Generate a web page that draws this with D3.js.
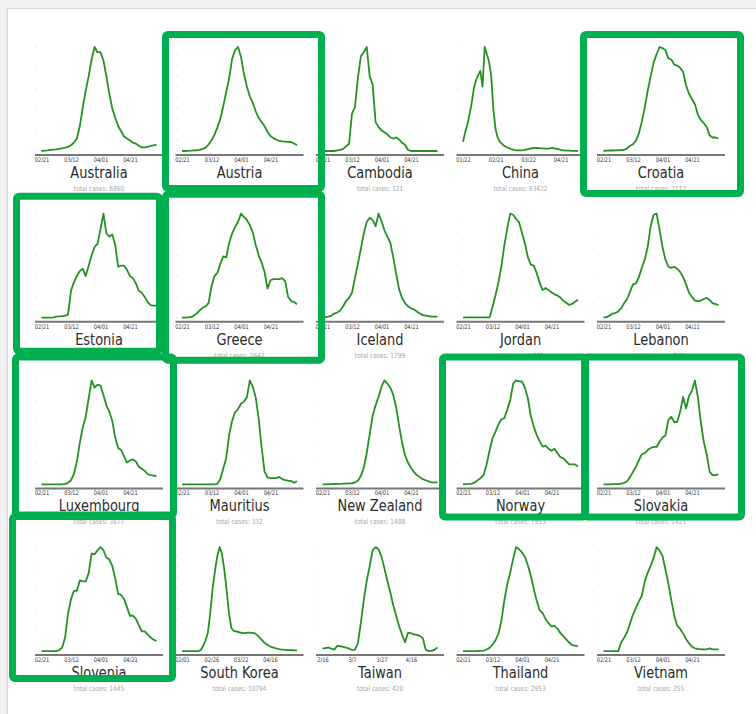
<!DOCTYPE html>
<html><head><meta charset="utf-8">
<script src="https://cdn.jsdelivr.net/npm/d3@7"></script>
<style>body{margin:0;background:#f1f1f1;} svg{display:block}</style>
</head><body><svg id="c" width="756" height="714"></svg>
<script>
// ---------- data ----------
const countries = ["Australia","Austria","Cambodia","China","Croatia","Estonia","Greece","Iceland","Jordan","Lebanon",
  "Luxembourg","Mauritius","New Zealand","Norway","Slovakia","Slovenia","South Korea","Taiwan","Thailand","Vietnam"];
const totalCases = [6860,15550,121,83422,2112,1711,2642,1799,471,740,3877,332,1488,7953,1421,1445,10794,420,2953,255];
const startDates = ["2020-02-21","2020-02-21","2020-02-21","2020-01-22","2020-02-21","2020-02-21","2020-02-21","2020-02-21","2020-02-21","2020-02-21",
  "2020-02-21","2020-02-21","2020-02-21","2020-02-21","2020-02-21","2020-02-21","2020-02-01","2020-02-16","2020-02-21","2020-02-21"];
const stepDays = 2;
const standardTicks = ["02/21","03/12","04/01","04/21"];
const chinaTicks = ["01/22","02/21","03/22","04/21"];
const koreaTicks = ["02/01","02/26","03/22","04/16"];
const taiwanTicks = ["2/16","3/7","3/27","4/16"];
const highlighted = ["Austria","Croatia","Estonia","Greece","Luxembourg","Norway","Slovakia","Slovenia"];

// daily new cases, smoothed, relative scale (sampled every 2 days)
const australia = [0,0.3,0.6,1,1.3,1.6,2,2.5,3.2,4,5.5,8,12,24,42,58,72,88,100,95,95,87,72,55,41,32,24,19,14,12,10,8,7,5,3.5,3.5,4,5,5.5,6];
const austria = [0,0,0.2,0.3,0.5,0.7,1,2,3.2,6,10,15,22,30,42,55,68,86,94,97,88,72,60,51,45,37,31,27,23,18,14,12,10.5,9.5,9,8.8,8.6,8.4,7,5.5];
const cambodia = [0,0,0,0,0,0.5,1,2,4.5,7,36,42,70,91,95,100,72,64,28,23,20,18,16,13,12,13,11,8,6,1,0,0,0,0,0,0,0,0,0,0];
const china = [9,18,25,35,46,60,68,73,77,62,100,93,86,72,40,21,13,9,7,5,4,3,2,1.5,1,0.8,0.6,0.8,1,1.5,2,2.5,2.8,3,3,2.8,2.6,2.6,2.4,2.4,2.6,3,2.6,2.2,1.8,1.2,0.8,0.6,0.5,0.4,0.3,0.3,0.2,0.1];
const croatia = [0,0.3,0.5,0.5,0.6,0.7,0.8,1,2.5,5,6.5,10,17,28,42,58,72,85,93,100,99,97,89,88,83,82,80,76,63,55,50,45,35,30,27,23,15,13,13,12];
const estonia = [0,0,0,0,0.3,1,1.3,1.5,2,3,26,34,40,45,47,40,50,60,68,71,85,100,81,78,80,70,49,50,50,46,40,38,33,26,24,20,15,12,11.7,11.7];
const greece = [0,0,0.3,0.5,2,4,7,9.5,11,14,30,40,43,52,59,58,72,81,87,92,100,97,94,89,82,70,60,53,44,28,36,37,37,37,38,35,20,16,15,13];
const iceland = [0,0.5,1,2,4,5,7,11,16,19,24,38,52,66,81,92,96,94,88,100,93,84,78,72,58,42,27,19,14,11,9,8,6,4,2.5,2,1.5,1,1,1];
const jordan = [0,0.3,0.3,0.3,0.3,0.3,0.3,0.3,0.3,0.3,10,21,33,48,68,84,98,97,93,90,80,70,57,50,49,42,33,26,28,26,24,22,21,19,16,14,12,13,15,17];
const lebanon = [0,0.5,2,3.8,4.5,6,9,14,18,25,32,33,39,48,56,68,88,99,100,85,68,56,49,48,49,47,44,39,32,24,20,16.5,16,16.5,18,19,17,14,13,12];
const luxembourg = [0,0,0,0,0,0,0,0,0.5,1.5,4,10,22,40,55,65,83,100,93,96,95,86,76,70,61,45,35,33,27,21,23,24,22,17,15,13,10,9,8.5,8];
const mauritius = [0,0,0,0,0,0,0,0,0,0,0,0,0.5,5,15,25,47,60,68,71,76,78,82,98,92,82,62,35,12,6.5,5.8,6,6,7,5,4,3.5,3.2,1.6,3];
const newZealand = [0,0,0.2,0.3,0.4,0.5,0.6,0.7,0.8,0.9,1,2,3.5,8,16,30,48,66,76,84,94,100,97,93,86,74,56,40,28,21,16,12,9,7,5,4,3,2,2,2];
const norway = [0,0.3,0.5,0.8,2,4,6,9,19,32,44,50,57,62,63,71,80,96,99,98,98,92,82,65,55,47,41,36,37,34,32,34,30,26,25,22,19,19,19,17];
const slovakia = [0,0,0,0.2,0.3,0.4,0.8,1.5,3,7,12,17,23,29,30,33,35,36,36,41,45,47,62,65,60,60,70,84,73,85,90,100,84,60,41,29,12,9,9,9.7];
const slovenia = [0,0,0,0,0,0,1,3.5,13,36,50,58,58,68,67,67,75,94,93,97,100,97,90,88,82,70,55,54,50,42,34,34,31,25,19,19,16,13,11,9.7];
const southKorea = [0,0,0,0,0,0,0,0,1,4.8,10,17,35,58,75,89,98,92,77,58,36,22,19,18.5,18,17.5,17,17,17.5,17.5,17,17,15,13,10.5,8,6.5,5,4,3.2,2.5,2,1.6,1.4,1.2,1,0.9,0.8,0.7,0.6];
const taiwan = [4,4.5,5,4,3,6.5,6.2,5.6,5,4,2.6,3,9,28,50,68,82,97,100,98,91,80,68,57,45,35,25,17,10,19,18.5,17.5,17,16,14,3,1.6,1.8,3,5];
const thailand = [0,0,0,0,0,0.2,0.3,0.5,1.5,3,6,10,16,28,47,62,73,86,97,95,92,88,80,70,58,47,38,35.5,30,26,23,23.5,21,17,14,11,8,5.5,5,4.8];
const vietnam = [0,0,0,0,0,0,8,12,17,25,33,39,45,50,63,71,77,84,94,91,86,74,61,46,32,23,20,16,11,7,4,2.5,2,1.6,1.6,1.6,2.5,1.6,1.5,1.6];

const seriesList = [australia,austria,cambodia,china,croatia,estonia,greece,iceland,jordan,lebanon,
  luxembourg,mauritius,newZealand,norway,slovakia,slovenia,southKorea,taiwan,thailand,vietnam];
const tickList = countries.map(n => n === "China" ? chinaTicks : n === "South Korea" ? koreaTicks : n === "Taiwan" ? taiwanTicks : standardTicks);

// ---------- layout (not data) ----------
const W = 756, H = 714;
const colX = c => 35 + c * 140.5;
const rowY = r => 155 + r * 166.7;
const axisW = 128;
const boxOffsets = { // outer box edges relative to cell (left of axis, axis y)
  "Austria":[-13.5,-124,149.5,37], "Croatia":[-17,-124,147,42], "Estonia":[-22,-129,128,33],
  "Greece":[-13.5,-131,149.5,42], "Luxembourg":[-23,-135,142,30], "Norway":[-17.5,-135,132.5,32],
  "Slovakia":[-16,-135,148,32], "Slovenia":[-26,-142,141,27]
};
const sx = 0.81;
const font = "'DejaVu Sans', Verdana, sans-serif";

const svg = d3.select("#c");
svg.append("rect").attr("width", W).attr("height", H).attr("fill", "#f1f1f1");
svg.append("rect").attr("x", 7.5).attr("y", 8.5).attr("width", W + 10).attr("height", H + 10)
  .attr("fill", "#fff").attr("stroke", "#d9d9d9");

const day = 864e5;
function parseTick(s){ const [m,d] = s.split("/").map(Number); return new Date(Date.UTC(2020, m-1, d)); }

countries.forEach((name, i) => {
  const c = i % 5, r = Math.floor(i / 5);
  const x0 = colX(c), ay = rowY(r);
  const vals = seriesList[i];
  const start = new Date(startDates[i] + "T00:00:00Z");
  const end = new Date(+start + (vals.length - 1) * stepDays * day);
  const x = d3.scaleUtc().domain([start, end]).range([x0 + 6.5, x0 + axisW - 6.5]);
  const y = d3.scaleLinear().domain(d3.extent(vals)).range([ay - 4, ay - 108]);
  const g = svg.append("g");

  // faint y ticks
  g.selectAll("line.yt").data(y.ticks(7)).join("line")
    .attr("x1", x0 + 0.5).attr("x2", x0 + 2).attr("y1", d => y(d)).attr("y2", d => y(d))
    .attr("stroke", "#e4e4e4").attr("stroke-width", 1);

  // line
  const line = d3.line().x((d, k) => x(new Date(+start + k * stepDays * day))).y(d => y(d));
  g.append("path").datum(vals).attr("d", line).attr("fill", "none")
    .attr("stroke", "#259125").attr("stroke-width", 1.8).attr("stroke-linejoin", "round");

  // axis
  const labels = tickList[i];
  const ax = d3.axisBottom(x).tickValues(labels.map(parseTick)).tickFormat((d, k) => labels[k])
    .tickSize(0).tickPadding(2.6);
  const axg = g.append("g").attr("transform", `translate(0,${ay})`).call(ax);
  axg.select(".domain").remove();
  axg.selectAll("text").attr("font-family", font).attr("font-size", 6.3).attr("fill", "#333")
    .attr("transform", `scale(${sx},1)`);
  g.append("line").attr("x1", x0).attr("x2", x0 + axisW).attr("y1", ay).attr("y2", ay)
    .attr("stroke", "#777").attr("stroke-width", 2);

  // title + total
  g.append("text").attr("transform", `translate(${x0 + 64},${ay + 23}) scale(${sx},1)`)
    .attr("text-anchor", "middle").attr("font-family", font).attr("font-size", 16).attr("fill", "#2b2b2b")
    .text(name);
  g.append("text").attr("transform", `translate(${x0 + 64},${ay + 36}) scale(${sx},1)`)
    .attr("text-anchor", "middle").attr("font-family", font).attr("font-size", 7.2).attr("fill", "#a5a5a5")
    .text("total cases: " + totalCases[i]);
});

// highlight boxes
highlighted.forEach(name => {
  const i = countries.indexOf(name);
  const c = i % 5, r = Math.floor(i / 5);
  const x0 = colX(c), ay = rowY(r);
  const [dl, dt, dr, db] = boxOffsets[name];
  svg.append("rect")
    .attr("x", x0 + dl + 3.5).attr("y", ay + dt + 3.5)
    .attr("width", dr - dl - 7).attr("height", db - dt - 7)
    .attr("rx", 2.5).attr("fill", "none").attr("stroke", "#00b050").attr("stroke-width", 7);
});
</script>
</body></html>
